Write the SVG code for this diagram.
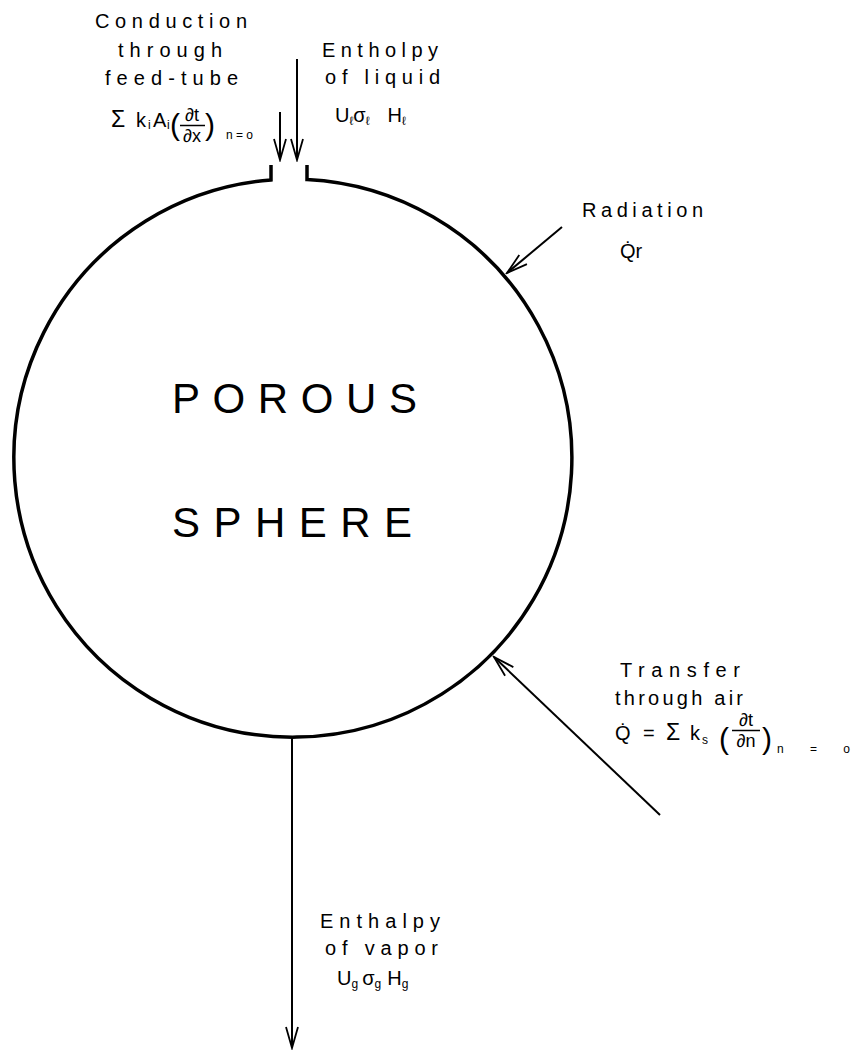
<svg xmlns="http://www.w3.org/2000/svg" width="859" height="1054" viewBox="0 0 859 1054">
<style>
.t{font-family:"Liberation Sans","DejaVu Sans",sans-serif;font-size:20px;fill:#000}
.f{font-family:"Liberation Sans","DejaVu Sans",sans-serif;font-size:18px;fill:#000}
.s{font-family:"Liberation Sans","DejaVu Sans",sans-serif;font-size:12px;fill:#000}
.big{font-family:"Liberation Sans","DejaVu Sans",sans-serif;font-size:42px;fill:#000}
.par{font-family:"Liberation Sans","DejaVu Sans",sans-serif;font-size:30px;fill:#000}
.ln{stroke:#000;fill:none;stroke-width:2}
</style>
<defs>
<marker id="ah" markerUnits="userSpaceOnUse" markerWidth="24" markerHeight="14" viewBox="0 0 24 14" refX="22" refY="7" orient="auto">
<path d="M1,1 L22,7 L1,13" fill="none" stroke="#000" stroke-width="1.8"/>
</marker>
</defs>
<rect width="859" height="1054" fill="#fff"/>
<g id="sphere">
<path d="M271,165 L271,180 A279,279 0 1 0 307,179.5 L307,165" fill="none" stroke="#000" stroke-width="3.5"/>
<text class="big" x="172" y="413" textLength="245" lengthAdjust="spacing">POROUS</text>
<text class="big" x="172" y="537" textLength="240" lengthAdjust="spacing">SPHERE</text>
</g>
<g id="connectors">
<line class="ln" x1="280" y1="112" x2="280" y2="160" marker-end="url(#ah)"/>
<line class="ln" x1="297" y1="59" x2="297" y2="160" marker-end="url(#ah)"/>
<line class="ln" x1="562" y1="227" x2="507" y2="273" marker-end="url(#ah)"/>
<line class="ln" x1="660" y1="815" x2="494" y2="657" marker-end="url(#ah)"/>
<line class="ln" x1="292" y1="738" x2="292" y2="1048" marker-end="url(#ah)"/>
</g>
<g id="conduction">
<text class="t" x="95" y="28" textLength="152" lengthAdjust="spacing">Conduction</text>
<text class="t" x="118" y="57" textLength="104" lengthAdjust="spacing">through</text>
<text class="t" x="105" y="85" textLength="133" lengthAdjust="spacing">feed-tube</text>
<text class="t" x="111" y="127" style="font-size:23px">Σ</text>
<text class="t" x="136" y="127">k</text>
<text class="s" x="148" y="129">i</text>
<text class="t" x="153" y="127">A</text>
<text class="s" x="167" y="129">i</text>
<text class="par" x="170" y="135">(</text>
<text class="f" x="192" y="121" text-anchor="middle">∂t</text>
<line x1="180" y1="125.5" x2="205" y2="125.5" stroke="#000" stroke-width="1.5"/>
<text class="f" x="192" y="142" text-anchor="middle">∂x</text>
<text class="par" x="205" y="135">)</text>
<text class="s" x="226" y="139" textLength="27" lengthAdjust="spacing">n=o</text>
</g>
<g id="liquid">
<text class="t" x="322" y="57" textLength="116" lengthAdjust="spacing">Entholpy</text>
<text class="t" x="325" y="84" textLength="115" lengthAdjust="spacing">of liquid</text>
<text class="t" x="335" y="122">U<tspan class="s" dy="3">ℓ</tspan><tspan dy="-3">σ</tspan><tspan class="s" dy="3">ℓ</tspan><tspan dy="-3" dx="18">H</tspan><tspan class="s" dy="3">ℓ</tspan></text>
</g>
<g id="radiation">
<text class="t" x="582" y="217" textLength="121" lengthAdjust="spacing">Radiation</text>
<text class="t" x="620" y="258">Q̇r</text>
</g>
<g id="transfer">
<text class="t" x="620" y="677" textLength="120" lengthAdjust="spacing">Transfer</text>
<text class="t" x="615" y="705" textLength="128" lengthAdjust="spacing">through air</text>
<text class="t" x="615" y="740">Q̇</text>
<text class="t" x="643" y="740">=</text>
<text class="t" x="666" y="740" style="font-size:23px">Σ</text>
<text class="t" x="690" y="740">k</text>
<text class="s" x="702" y="744">s</text>
<text class="par" x="719" y="749">(</text>
<text class="f" x="746" y="726" text-anchor="middle">∂t</text>
<line x1="732" y1="730.5" x2="760" y2="730.5" stroke="#000" stroke-width="1.5"/>
<text class="f" x="746" y="747" text-anchor="middle">∂n</text>
<text class="par" x="762" y="749">)</text>
<text class="s" x="777" y="753" textLength="73" lengthAdjust="spacing">n=o</text>
</g>
<g id="vapor">
<text class="t" x="320" y="928" textLength="120" lengthAdjust="spacing">Enthalpy</text>
<text class="t" x="325" y="955" textLength="113" lengthAdjust="spacing">of vapor</text>
<text class="t" x="337" y="985">U<tspan class="s" dy="3">g</tspan><tspan dy="-3" dx="4">σ</tspan><tspan class="s" dy="3">g</tspan><tspan dy="-3" dx="6">H</tspan><tspan class="s" dy="3">g</tspan></text>
</g>
</svg>
